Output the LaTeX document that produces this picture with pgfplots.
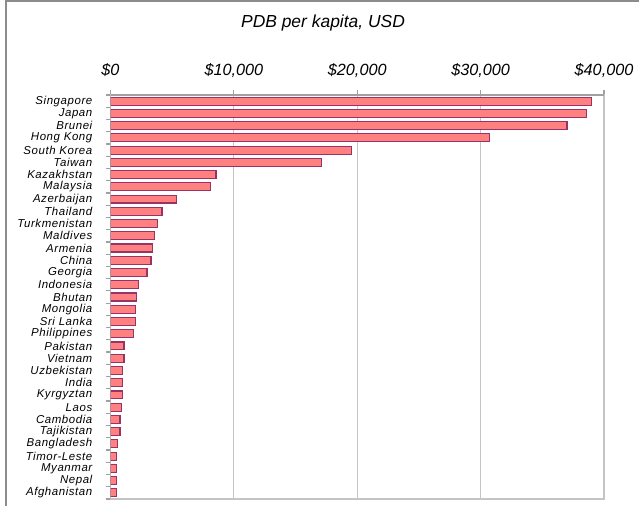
\documentclass[border=0pt]{standalone}
\usepackage{fontspec}
\setmainfont{Liberation Sans}
\newfontfamily\catfont[LetterSpace=5]{Liberation Sans}
\usepackage{pgfplots}
\pgfplotsset{compat=1.18}
\definecolor{barfill}{HTML}{FF8080}
\definecolor{baredge}{HTML}{993366}
\definecolor{gridgray}{HTML}{C4C4C4}
\definecolor{axisgray}{HTML}{A0A0A0}
\definecolor{framegray}{HTML}{8C8C8C}

\pgfplotstableread{
idx value
32 39000
31 38600
30 37000
29 30700
28 19500
27 17100
26 8550
25 8100
24 5360
23 4170
22 3820
21 3600
20 3390
19 3280
18 2960
17 2280
16 2090
15 1990
14 2000
13 1850
12 1090
11 1090
10 990
9 990
8 990
7 880
6 770
5 770
4 550
3 450
2 450
1 450
0 450
}\gdp

\begin{document}
\begin{tikzpicture}[x=1bp,y=1bp]
\useasboundingbox (0,0) rectangle (639,506);
\fill[white] (0,0) rectangle (639,506);
\begin{scope}
\clip (0,0) rectangle (639,506);
\draw[framegray, line width=1.5bp] (6,-3) -- (6,505) -- (645,505);
\end{scope}
\node[font=\fontsize{17.5}{20}\selectfont\itshape, anchor=base] at (323,478) {PDB per kapita, USD};
\begin{axis}[
  at={(110.5bp,7bp)}, anchor=south west,
  width=493.5bp, height=404bp, scale only axis,
  xbar, bar width=0.65, bar shift=0pt,
  xmin=0, xmax=40000, ymin=-0.5, ymax=32.5,
  xtick={0,10000,20000,30000,40000},
  scaled x ticks=false,
  xtick pos=top, xticklabel pos=top,
  tick align=outside,
  major tick length=5bp, minor tick length=5bp,
  xtick style={axisgray, line width=1.2bp},
  xticklabel={\$\pgfmathprintnumber{\tick}},
  /pgf/number format/.cd, fixed, 1000 sep={,}, assume math mode=true,
  /pgfplots/.cd,
  xticklabel style={font=\fontsize{16.3}{18}\selectfont\itshape, inner sep=0pt, anchor=base, yshift=14bp},
  ytick={0,...,32},
  yticklabels={Afghanistan, Nepal, Myanmar, Timor-Leste, Bangladesh, Tajikistan, Cambodia, Laos, Kyrgyztan, India, Uzbekistan, Vietnam, Pakistan, Philippines, Sri Lanka, Mongolia, Bhutan, Indonesia, Georgia, China, Armenia, Maldives, Turkmenistan, Thailand, Azerbaijan, Malaysia, Kazakhstan, Taiwan, South Korea, Hong Kong, Brunei, Japan, Singapore},
  ytick pos=left,
  major y tick style={draw=none},
  minor ytick={-0.5,0.5,...,32.5},
  minor y tick style={draw=axisgray, line width=1.2bp},
  yticklabel style={font=\catfont\fontsize{11.5}{12}\selectfont\itshape, inner sep=0pt, anchor=east, xshift=-13bp},
  xmajorgrids, major grid style={gridgray, line width=1.2bp},
  axis line style={gridgray, line width=1.2bp},
]
\addplot[fill=barfill, draw=baredge, line width=1.1bp] table[x=value, y=idx] {\gdp};
\draw[axisgray, line width=1.5bp] (rel axis cs:0,0) -- (rel axis cs:0,1) -- (rel axis cs:1,1);
\end{axis}
\end{tikzpicture}
\end{document}
